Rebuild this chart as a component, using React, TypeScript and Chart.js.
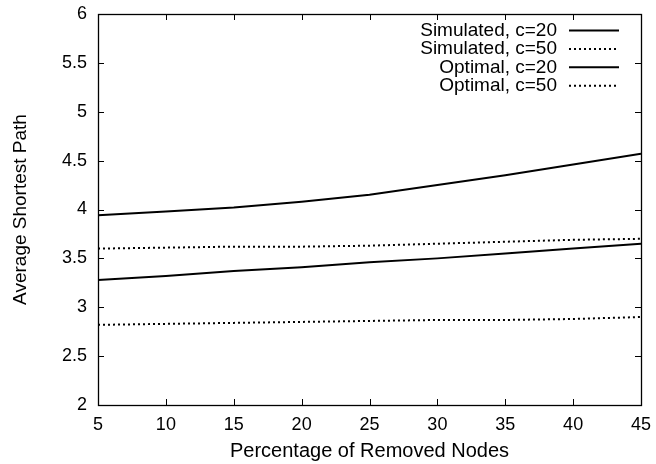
import React, { useEffect, useRef } from "react";
import { Chart, registerables } from "chart.js";

Chart.register(...registerables);

// Percentage of removed nodes (x values)
const removedPct = [5, 10, 15, 20, 25, 30, 35, 40, 45];

// Average shortest path for each configuration
const simulatedC20 = [3.94, 3.98, 4.02, 4.08, 4.15, 4.25, 4.35, 4.46, 4.57];
const simulatedC50 = [3.6, 3.61, 3.62, 3.62, 3.63, 3.65, 3.67, 3.69, 3.7];
const optimalC20 = [3.28, 3.32, 3.37, 3.41, 3.46, 3.5, 3.55, 3.6, 3.65];
const optimalC50 = [2.82, 2.83, 2.84, 2.85, 2.86, 2.87, 2.87, 2.88, 2.9];

const seriesNames = ["Simulated, c=20", "Simulated, c=50", "Optimal, c=20", "Optimal, c=50"];
const seriesValues = [simulatedC20, simulatedC50, optimalC20, optimalC50];
const seriesDotted = [false, true, false, true];

const FONT = "'Liberation Sans', Arial, Helvetica, sans-serif";
const DOT_DASH = [2, 3];

// Frame with inward tick marks on all four sides, plus the key in the top-right corner
const framePlugin = {
  id: "frame",
  afterDatasetsDraw(chart: any) {
    const { ctx, chartArea } = chart;
    const { left, right, top, bottom } = chartArea;
    const xs = chart.scales.x;
    const ys = chart.scales.y;
    const tl = 6;
    ctx.save();
    ctx.strokeStyle = "#000";
    ctx.lineWidth = 1;
    ctx.setLineDash([]);
    ctx.beginPath();
    xs.ticks.forEach((t: any) => {
      const px = Math.round(xs.getPixelForValue(t.value)) + 0.5;
      ctx.moveTo(px, bottom);
      ctx.lineTo(px, bottom - tl);
      ctx.moveTo(px, top);
      ctx.lineTo(px, top + tl);
    });
    ys.ticks.forEach((t: any) => {
      const py = Math.round(ys.getPixelForValue(t.value)) + 0.5;
      ctx.moveTo(left, py);
      ctx.lineTo(left + tl, py);
      ctx.moveTo(right, py);
      ctx.lineTo(right - tl, py);
    });
    ctx.stroke();
    ctx.lineWidth = 1.3;
    ctx.strokeRect(Math.round(left) + 0.5, Math.round(top) + 0.5, Math.round(right - left), Math.round(bottom - top));

    // key
    ctx.font = `19px ${FONT}`;
    ctx.fillStyle = "#000";
    ctx.textAlign = "right";
    ctx.textBaseline = "middle";
    seriesNames.forEach((name, i) => {
      const y = top + 16.5 + i * 18.4;
      ctx.fillText(name, right - 84, y);
      ctx.lineWidth = 2;
      ctx.setLineDash(seriesDotted[i] ? DOT_DASH : []);
      ctx.beginPath();
      ctx.moveTo(right - 72, y);
      ctx.lineTo(right - 22, y);
      ctx.stroke();
    });
    ctx.restore();
  },
};

const noScalePadding = (s: any) => {
  s.paddingTop = 0;
  s.paddingBottom = 0;
  s.paddingLeft = 0;
  s.paddingRight = 0;
};

export default function App() {
  const canvasRef = useRef<HTMLCanvasElement | null>(null);

  useEffect(() => {
    if (!canvasRef.current) return;
    const chart = new Chart(canvasRef.current, {
      type: "line",
      data: {
        datasets: seriesNames.map((name, i) => ({
          label: name,
          data: removedPct.map((x, j) => ({ x, y: seriesValues[i][j] })),
          borderColor: "#000",
          borderWidth: 2,
          borderDash: seriesDotted[i] ? DOT_DASH : [],
          pointRadius: 0,
          fill: false,
          tension: 0,
        })),
      },
      options: {
        animation: false,
        responsive: false,
        maintainAspectRatio: false,
        layout: { padding: { top: 14, right: 15, left: 0, bottom: 0 } },
        plugins: {
          legend: { display: false },
          tooltip: { enabled: false },
        },
        scales: {
          x: {
            type: "linear",
            min: 5,
            max: 45,
            grid: { display: false, drawTicks: false },
            border: { display: false },
            ticks: {
              stepSize: 5,
              color: "#000",
              padding: 9,
              maxRotation: 0,
              font: { family: FONT, size: 18 },
              callback: (v: any) => String(Number(v)),
            },
            title: {
              display: true,
              text: "Percentage of Removed Nodes",
              color: "#000",
              font: { family: FONT, size: 20 },
              padding: { top: 0, bottom: 1 },
            },
            afterFit: (s: any) => {
              s.height = 59;
              noScalePadding(s);
            },
          },
          y: {
            type: "linear",
            min: 2,
            max: 6,
            grid: { display: false, drawTicks: false },
            border: { display: false },
            ticks: {
              stepSize: 0.5,
              color: "#000",
              padding: 11,
              font: { family: FONT, size: 18 },
              callback: (v: any) => String(Number(v)),
            },
            title: {
              display: true,
              text: "Average Shortest Path",
              color: "#000",
              font: { family: FONT, size: 19 },
              padding: { top: 9, bottom: 0 },
            },
            afterFit: (s: any) => {
              s.width = 98;
              noScalePadding(s);
            },
          },
        },
      },
      plugins: [framePlugin],
    });
    return () => chart.destroy();
  }, []);

  return (
    <div style={{ position: "fixed", left: 0, top: 0, width: 656, height: 464, background: "#fff" }}>
      <canvas ref={canvasRef} width={656} height={464} style={{ display: "block" }} />
    </div>
  );
}
